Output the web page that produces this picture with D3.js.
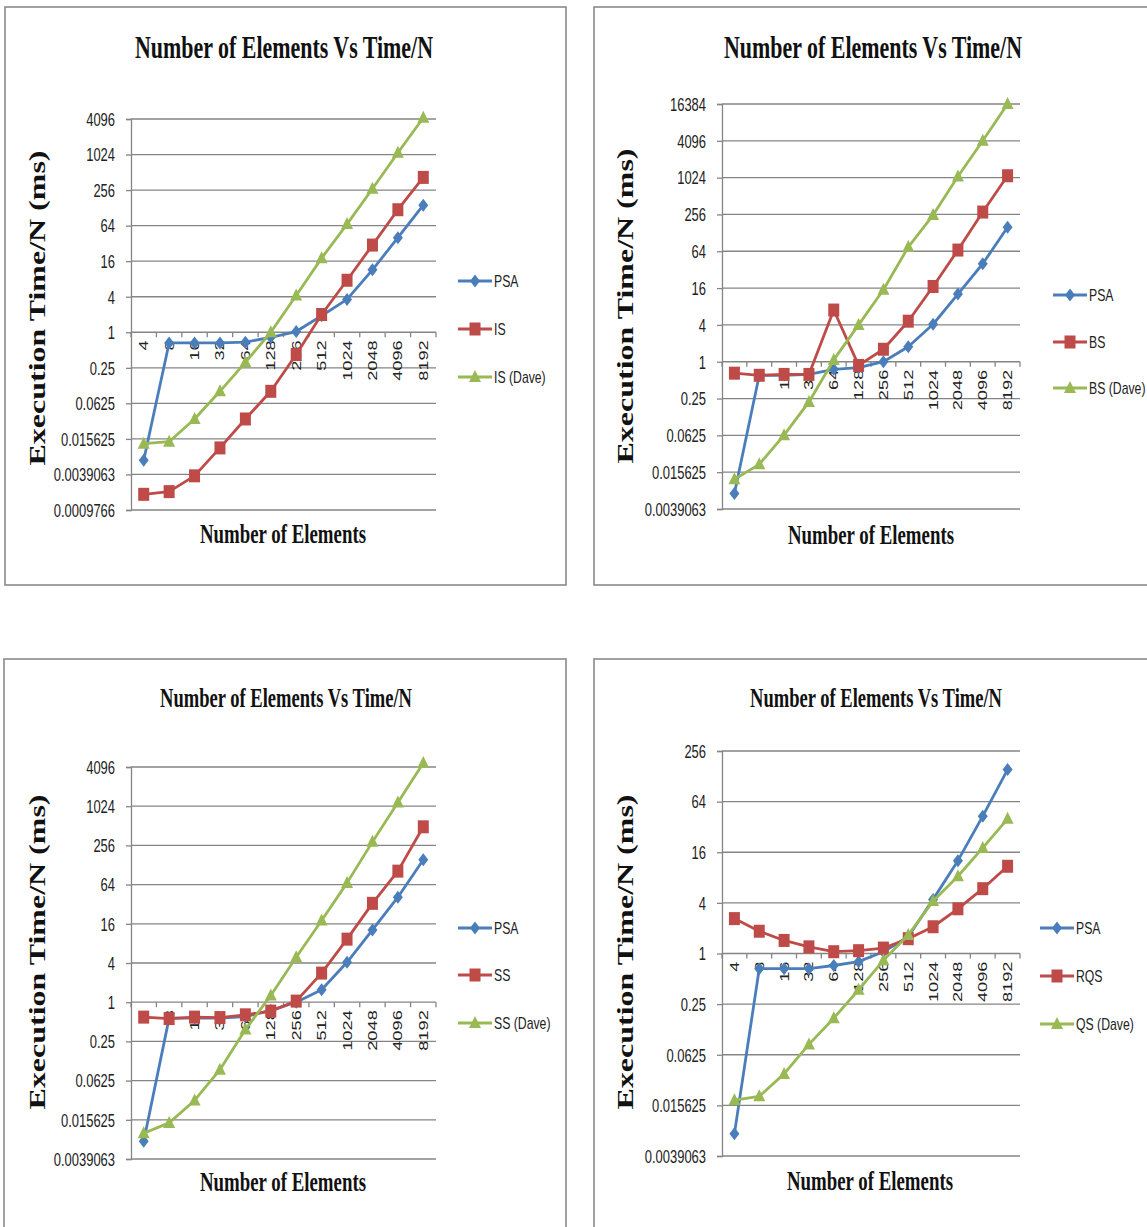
<!DOCTYPE html>
<html><head><meta charset="utf-8">
<script src="https://cdn.jsdelivr.net/npm/d3@7"></script>
<style>body{margin:0;background:#fff} svg{display:block}</style>
</head><body><svg id="c" width="1147" height="1227"></svg>
<script>
// Problem sizes on the category axis
const categories = ["4","8","16","32","64","128","256","512","1024","2048","4096","8192"];
// Powers-of-4 tick labels shared by all value axes
const tickLabels = ["0.0009766","0.0039063","0.015625","0.0625","0.25","1","4","16","64","256","1024","4096","16384"];
const tickValues = [2**-10,2**-8,2**-6,2**-4,2**-2,1,4,16,64,256,1024,4096,16384];

// Insertion sort
const psaIS  = [0.0068,0.66,0.66,0.66,0.68,0.82,1.03,1.9,3.6,11.4,40,142];
const isOwn  = [0.0018,0.002,0.0037,0.011,0.034,0.10,0.42,2.0,7.6,30,119,420];
const isDave = [0.013,0.014,0.034,0.10,0.31,1.0,4.2,18,68,270,1100,4300];
// Bubble sort
const psaBS  = [0.007,0.6,0.6,0.62,0.75,0.8,1.0,1.76,4.1,12.8,40,158];
const bsOwn  = [0.65,0.6,0.62,0.62,7,0.87,1.6,4.6,17,67,280,1100];
const bsDave = [0.012,0.021,0.063,0.22,1.07,4,15,75,250,1070,4100,16384];
// Selection sort
const psaSS  = [0.0073,0.57,0.57,0.57,0.6,0.75,1.0,1.55,4.1,12.9,41,154];
const ssOwn  = [0.59,0.56,0.59,0.58,0.64,0.73,1.04,2.8,9.3,33,103,494];
const ssDave = [0.0097,0.014,0.031,0.092,0.38,1.27,4.9,18,68,290,1170,4700];
// Quick sort
const psaQS  = [0.0072,0.66,0.66,0.66,0.72,0.8,1.05,1.58,4.4,12.7,43,154];
const rqsOwn = [2.6,1.84,1.43,1.2,1.05,1.08,1.16,1.5,2.08,3.4,5.9,10.9];
const qsDave = [0.018,0.02,0.037,0.083,0.17,0.37,0.83,1.66,4.2,8.3,18,40];

const titleText = "Number of Elements Vs Time/N";
const yTitleText = "Execution  Time/N  (ms)";
const xTitleText = "Number of Elements";

const colors = {blue:"#4a7ebb", red:"#be4b48", green:"#98b954"};

const panels = [
  {names:["PSA","IS","IS (Dave)"], series:[psaIS,isOwn,isDave], yMin:0, yMax:11,
   frame:[5,7,561,578], px:[131,436], py:[119,510], tx:284, ty:58, tw:298, tf:32,
   ytx:37, yty:308, xtx:283, xty:543, lx:458, ly:[281,329,377]},
  {names:["PSA","BS","BS (Dave)"], series:[psaBS,bsOwn,bsDave], yMin:1, yMax:12,
   frame:[594,7,562,578], px:[722,1020], py:[104,509], tx:873, ty:58, tw:298, tf:32,
   ytx:625, yty:306, xtx:871, xty:544, lx:1053, ly:[295,342,388]},
  {names:["PSA","SS","SS (Dave)"], series:[psaSS,ssOwn,ssDave], yMin:1, yMax:11,
   frame:[4,659,562,600], px:[131,436], py:[767,1159], tx:286, ty:707, tw:252, tf:27,
   ytx:37, yty:952, xtx:283, xty:1191, lx:458, ly:[928,975,1023]},
  {names:["PSA","RQS","QS (Dave)"], series:[psaQS,rqsOwn,qsDave], yMin:1, yMax:9,
   frame:[594,659,562,600], px:[722,1020], py:[751,1156], tx:876, ty:707, tw:252, tf:27,
   ytx:625, yty:952, xtx:870, xty:1190, lx:1040, ly:[928,976,1024]}
];

const svg = d3.select("#c");
const serif = "'Liberation Serif','Times New Roman',serif";
const sans = "'Liberation Sans Narrow','Liberation Sans',Arial,sans-serif";

// narrow a text horizontally (along its reading direction) by factor k
function squeeze(sel, k){
  sel.each(function(){
    const w = this.getComputedTextLength();
    d3.select(this).attr("textLength", w*k).attr("lengthAdjust","spacingAndGlyphs");
  });
}

// marker shapes, slightly taller than wide
function marker(g, kind, x, y, color){
  if(kind===0){
    g.append("path").attr("d",`M${x},${y-6.5}L${x+5},${y}L${x},${y+6.5}L${x-5},${y}Z`).attr("fill",color);
  } else if(kind===1){
    g.append("rect").attr("x",x-5.5).attr("y",y-6.5).attr("width",11).attr("height",13).attr("fill",color);
  } else {
    g.append("path").attr("d",`M${x},${y-7}L${x+6},${y+5}L${x-6},${y+5}Z`).attr("fill",color);
  }
}

const seriesColors = [colors.blue, colors.red, colors.green];

panels.forEach(p => {
  const g = svg.append("g");
  const [fx,fy,fw,fh] = p.frame;
  g.append("rect").attr("x",fx).attr("y",fy).attr("width",fw).attr("height",fh)
    .attr("fill","#fff").attr("stroke","#8a8a8a").attr("stroke-width",1.6);

  const ticks = tickValues.slice(p.yMin, p.yMax+1);
  const labels = tickLabels.slice(p.yMin, p.yMax+1);
  const y = d3.scaleLog().base(2).domain([ticks[0], ticks[ticks.length-1]]).range([p.py[1], p.py[0]]);
  const x = d3.scaleBand().domain(categories).range(p.px);

  // horizontal gridlines
  g.append("g").selectAll("line").data(ticks).join("line")
    .attr("x1",p.px[0]).attr("x2",p.px[1])
    .attr("y1",d=>y(d)).attr("y2",d=>y(d))
    .attr("stroke","#858585").attr("stroke-width",1.3);

  // value axis
  const yAxis = d3.axisLeft(y).tickValues(ticks).tickSize(5).tickPadding(11)
    .tickFormat((d,i)=>labels[i]);
  const ya = g.append("g").attr("transform",`translate(${p.px[0]},0)`).call(yAxis);
  ya.select(".domain").attr("stroke","#858585").attr("stroke-width",1.3);
  ya.selectAll(".tick line").attr("stroke","#858585").attr("stroke-width",1.3);
  ya.selectAll(".tick text").attr("font-family",sans).attr("font-size",17.5).attr("fill","#222").attr("dy","0.36em");
  squeeze(ya.selectAll(".tick text"), 0.74);

  // category axis crossing at 1
  const y1 = y(1);
  const bounds = categories.map(c=>x(c)).concat([p.px[1]]);
  g.append("g").selectAll("line").data(bounds).join("line")
    .attr("x1",d=>d).attr("x2",d=>d).attr("y1",y1).attr("y2",y1+5)
    .attr("stroke","#858585").attr("stroke-width",1.3);
  const xl = g.append("g").selectAll("text").data(categories).join("text")
    .attr("transform",d=>`translate(${x(d)+x.bandwidth()/2+4.5},${y1+8}) rotate(-90)`)
    .attr("text-anchor","end").attr("font-family",sans).attr("font-size",13.5).attr("fill","#222")
    .text(d=>d);
  squeeze(xl, 1.35);

  // series
  const line = d3.line().x((d,i)=>x(categories[i])+x.bandwidth()/2).y(d=>y(d));
  p.series.forEach((s,k)=>{
    const sg = g.append("g");
    sg.append("path").datum(s).attr("d",line).attr("fill","none")
      .attr("stroke",seriesColors[k]).attr("stroke-width",2.8).attr("stroke-linejoin","round");
    s.forEach((v,i)=>marker(sg,k,x(categories[i])+x.bandwidth()/2,y(v),seriesColors[k]));
  });

  // titles
  g.append("text").attr("x",p.tx).attr("y",p.ty).attr("text-anchor","middle")
    .attr("font-family",serif).attr("font-weight","bold").attr("font-size",p.tf).attr("fill","#111")
    .attr("textLength",p.tw).attr("lengthAdjust","spacingAndGlyphs").text(titleText);
  g.append("text").attr("transform",`translate(${p.ytx+8},${p.yty}) rotate(-90)`).attr("text-anchor","middle")
    .attr("font-family",serif).attr("font-weight","bold").attr("font-size",23).attr("fill","#111")
    .attr("textLength",315).attr("lengthAdjust","spacingAndGlyphs").text(yTitleText);
  g.append("text").attr("x",p.xtx).attr("y",p.xty).attr("text-anchor","middle")
    .attr("font-family",serif).attr("font-weight","bold").attr("font-size",27).attr("fill","#111")
    .attr("textLength",166).attr("lengthAdjust","spacingAndGlyphs").text(xTitleText);

  // legend
  p.names.forEach((n,k)=>{
    const lg = g.append("g");
    const ly = p.ly[k];
    lg.append("line").attr("x1",p.lx).attr("x2",p.lx+34).attr("y1",ly).attr("y2",ly)
      .attr("stroke",seriesColors[k]).attr("stroke-width",2.8);
    marker(lg,k,p.lx+17,ly,seriesColors[k]);
    const t = lg.append("text").attr("x",p.lx+36).attr("y",ly).attr("dy","0.36em")
      .attr("font-family",sans).attr("font-size",17).attr("fill","#222").text(n);
    squeeze(t, 0.72);
  });
});
</script></body></html>
